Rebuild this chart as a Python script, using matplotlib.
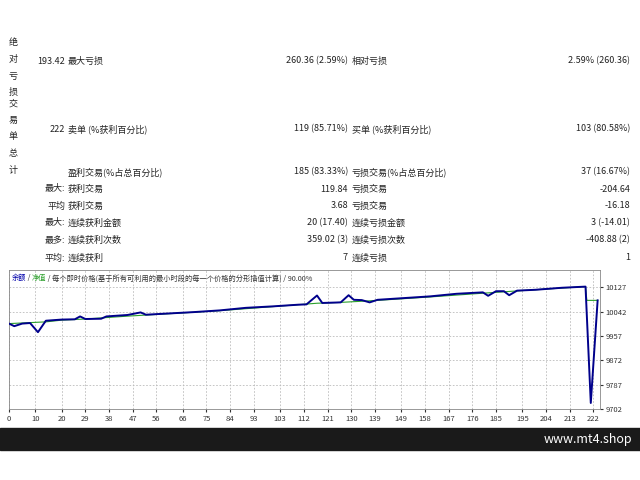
"""MT4 回测报告截图的复刻."""

import matplotlib
matplotlib.use("Agg")
import matplotlib.pyplot as plt

plt.rcParams["font.family"] = ["Noto Sans CJK SC", "DejaVu Sans"]

# --- 表格数据 ---
side_labels = ["绝对亏损", "交易单总计"]
row1 = ["193.42", "最大亏损", "260.36 (2.59%)", "相对亏损", "2.59% (260.36)"]
row2 = ["222", "卖单 (%获利百分比)", "119 (85.71%)", "买单 (%获利百分比)", "103 (80.58%)"]
stat_rows = [
    ["", "盈利交易(%占总百分比)", "185 (83.33%)", "亏损交易(%占总百分比)", "37 (16.67%)"],
    ["最大:", "获利交易", "119.84", "亏损交易", "-204.64"],
    ["平均", "获利交易", "3.68", "亏损交易", "-16.18"],
    ["最大:", "连续获利金额", "20 (17.40)", "连续亏损金额", "3 (-14.01)"],
    ["最多:", "连续获利次数", "359.02 (3)", "连续亏损次数", "-408.88 (2)"],
    ["平均:", "连续获利", "7", "连续亏损", "1"],
]

# --- 曲线数据 (交易序号, 数值) ---
balance_x = [0, 2, 5, 8, 11, 14, 20, 25, 27, 29, 35, 37, 45, 50, 52, 60, 70, 80,
             90, 100, 110, 113, 117, 119, 126, 129, 131, 134, 137, 140, 150, 160,
             170, 180, 182, 185, 188, 190, 193, 200, 210, 219, 221, 223.6]
balance_y = [10000, 9991, 10000, 10002, 9970, 10010, 10014, 10015, 10025, 10016,
             10017, 10025, 10030, 10039, 10031, 10035, 10040, 10046, 10055, 10060,
             10066, 10067, 10098, 10072, 10074, 10099, 10083, 10082, 10074, 10083,
             10089, 10095, 10104, 10109, 10097, 10113, 10113, 10099, 10115, 10118,
             10125, 10129, 9723, 10081]
equity_x = [0, 14, 20, 29, 45, 60, 80, 100, 117, 126, 140, 160, 180, 193, 210,
            219, 219.5, 223.6]
equity_y = [10000, 10006, 10012, 10016, 10026, 10034, 10045, 10059, 10071, 10074,
            10081, 10093, 10106, 10114, 10124, 10129, 10081, 10081]

xticks = [0, 10, 20, 29, 38, 47, 56, 66, 75, 84, 93, 103, 112, 121, 130, 139,
          149, 158, 167, 176, 185, 195, 204, 213, 222]
yticks = [9702, 9787, 9872, 9957, 10042, 10127]

W, H = 640, 480
fig = plt.figure(figsize=(6.4, 4.8), dpi=100)


def px(x, y):
    return x / W, 1 - y / H


fs = 6.5
tc = "#222222"

# 竖排标签
for label, y0 in zip(side_labels, [43, 104]):
    for i, ch in enumerate(label):
        fig.text(*px(13, y0 + i * 16.5), ch, fontsize=fs, color=tc,
                 ha="center", va="center")

all_rows = [(61, row1), (129, row2)] + [
    (y, r) for y, r in zip([172, 189, 206, 223, 240, 258], stat_rows)
]
for y, r in all_rows:
    fig.text(*px(65, y), r[0], fontsize=fs, color=tc, ha="right", va="center")
    fig.text(*px(68, y), r[1], fontsize=fs, color=tc, ha="left", va="center")
    fig.text(*px(348, y), r[2], fontsize=fs, color=tc, ha="right", va="center")
    fig.text(*px(352, y), r[3], fontsize=fs, color=tc, ha="left", va="center")
    fig.text(*px(630, y), r[4], fontsize=fs, color=tc, ha="right", va="center")

# --- 图表 ---
ax = fig.add_axes([9 / W, 1 - 409 / H, 591 / W, 139 / H])
ax.plot(equity_x, equity_y, color="#2ca02c", lw=0.8, zorder=2)
ax.plot(balance_x, balance_y, color="#00008b", lw=1.4, zorder=3)
ax.set_xlim(0, 224.5)
ax.set_ylim(9702, 10187)
ax.set_xticks(xticks)
ax.set_yticks(yticks)
ax.yaxis.tick_right()
ax.tick_params(labelsize=5.5, length=2, pad=2, colors="#333333")
ax.grid(True, ls=(0, (2, 2)), color="#bbbbbb", lw=0.6)
for s in ax.spines.values():
    s.set_color("#888888")
    s.set_linewidth(0.6)

tx, ty = 0.004, 0.97
for txt, col in [("余额", "#0000aa"), (" / ", "#333333"), ("净值", "#2ca02c"),
                 (" / 每个即时价格(基于所有可利用的最小时段的每一个价格的分形插值计算) / 90.00%",
                  "#333333")]:
    t = ax.text(tx, ty, txt, transform=ax.transAxes, fontsize=5.2, color=col,
                ha="left", va="top")
    fig.canvas.draw()
    bb = t.get_window_extent().transformed(ax.transAxes.inverted())
    tx = bb.x1

# 底部黑条
fig.patches.append(plt.Rectangle(px(0, 450), 1, 22 / H, transform=fig.transFigure,
                                 color="#1a1a1a", zorder=0))
fig.text(*px(632, 439), "www.mt4.shop", fontsize=9, color="white",
         ha="right", va="center")

fig.savefig("out.png", dpi=100)
